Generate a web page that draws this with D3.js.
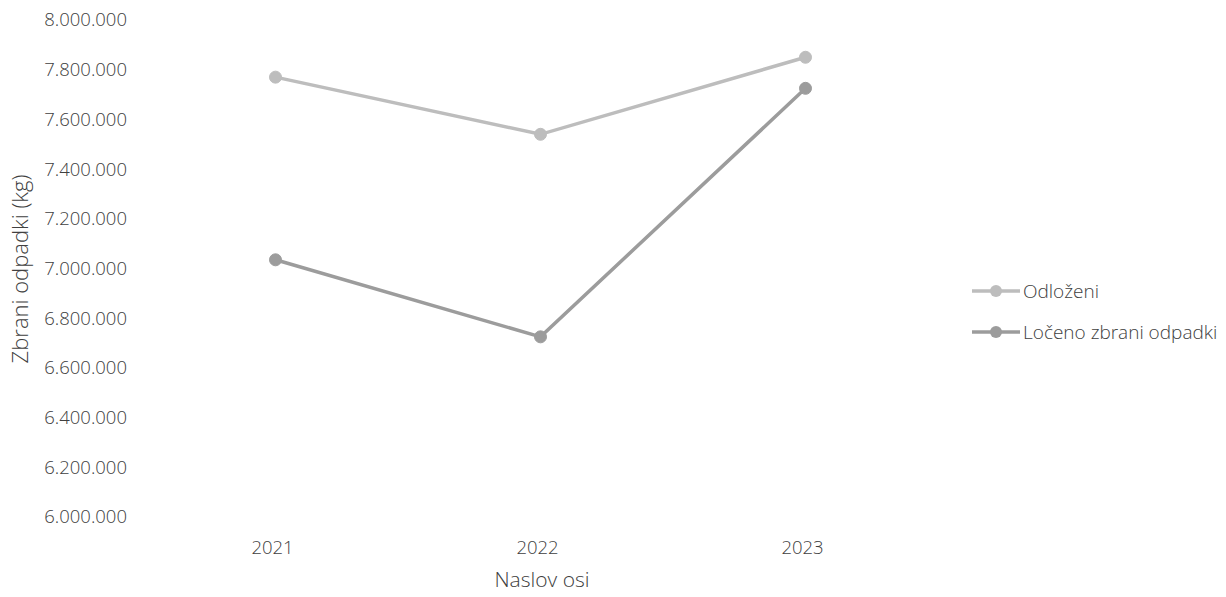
<!DOCTYPE html>
<html>
<head>
<meta charset="utf-8">
<script src="https://cdn.jsdelivr.net/npm/d3@7"></script>
<style>
  body { margin: 0; background: #fff; }
  text { font-family: "Open Sans", sans-serif; font-weight: 300; fill: #404040; }
</style>
</head>
<body>
<div id="chart"></div>
<script>
// 数据
const years = ["2021", "2022", "2023"];
const odlozeni = [7770000, 7540000, 7850000];
const loceno = [7035000, 6725000, 7725000];
const yTicks = [6000000, 6200000, 6400000, 6600000, 6800000, 7000000, 7200000, 7400000, 7600000, 7800000, 8000000];
const seriesNames = ["Odloženi", "Ločeno zbrani odpadki"];
const seriesColors = ["#bdbdbd", "#9c9c9c"];

const W = 1226, H = 597;
const svg = d3.select("#chart").append("svg")
    .attr("width", W)
    .attr("height", H);

// 比例尺
const x = d3.scaleBand().domain(years).range([143, 938]);
const y = d3.scaleLinear().domain([6000000, 8000000]).range([517, 20]);

const fmt = v => d3.format(",")(v).replace(/,/g, ".");

// Y轴标签
svg.append("g").selectAll("text")
    .data(yTicks)
    .join("text")
    .attr("x", 127)
    .attr("y", d => y(d))
    .attr("dy", "0.35em")
    .attr("text-anchor", "end")
    .style("font-size", "18.5px")
    .text(fmt);

// X轴标签
svg.append("g").selectAll("text")
    .data(years)
    .join("text")
    .attr("x", d => x(d) + x.bandwidth() / 2 - 3)
    .attr("y", 548)
    .attr("dy", "0.35em")
    .attr("text-anchor", "middle")
    .style("font-size", "18.5px")
    .text(d => d);

// 轴标题
svg.append("text")
    .attr("x", 542)
    .attr("y", 580)
    .attr("dy", "0.35em")
    .attr("text-anchor", "middle")
    .style("font-size", "21px")
    .text("Naslov osi");

svg.append("text")
    .attr("transform", `translate(20,${269}) rotate(-90)`)
    .attr("dy", "0.35em")
    .attr("text-anchor", "middle")
    .style("font-size", "22px")
    .text("Zbrani odpadki (kg)");

// 折线
const allSeries = [odlozeni, loceno];
const line = d3.line()
    .x((d, i) => x(years[i]) + x.bandwidth() / 2)
    .y(d => y(d));

allSeries.forEach((vals, k) => {
    svg.append("path")
        .datum(vals)
        .attr("fill", "none")
        .attr("stroke", seriesColors[k])
        .attr("stroke-width", 3.5)
        .attr("d", line);
    svg.append("g").selectAll("circle")
        .data(vals)
        .join("circle")
        .attr("cx", (d, i) => x(years[i]) + x.bandwidth() / 2)
        .attr("cy", d => y(d))
        .attr("r", 6)
        .attr("fill", seriesColors[k])
        .attr("stroke", seriesColors[k])
        .attr("stroke-width", 1);
});

// 图例
const legend = svg.append("g").attr("transform", "translate(972,291)");
const items = legend.selectAll("g")
    .data(seriesNames)
    .join("g")
    .attr("transform", (d, i) => `translate(0,${i * 41})`);
items.append("line")
    .attr("x1", 0).attr("x2", 48)
    .attr("stroke", (d, i) => seriesColors[i])
    .attr("stroke-width", 3.5);
items.append("circle")
    .attr("cx", 24)
    .attr("r", 6)
    .attr("fill", (d, i) => seriesColors[i]);
items.append("text")
    .attr("x", 51)
    .attr("dy", "0.35em")
    .style("font-size", "19px")
    .text(d => d);
</script>
</body>
</html>
